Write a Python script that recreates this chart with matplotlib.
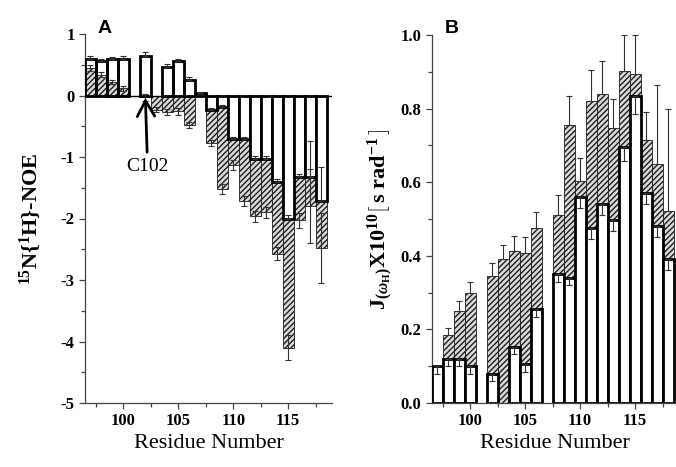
import numpy as np
import matplotlib
matplotlib.use("Agg")
import matplotlib.pyplot as plt
from matplotlib.ticker import MultipleLocator

nan = np.nan

# ---------------- data ----------------
residues = [97, 98, 99, 100, 101, 102, 103, 104, 105, 106, 107,
            108, 109, 110, 111, 112, 113, 114, 115, 116, 117, 118]

# Panel A: 15N{1H}-NOE
noe_open = [0.60, 0.56, 0.59, 0.60, nan, 0.65, nan, 0.47, 0.565, 0.26, 0.04,
            -0.24, -0.18, -0.71, -0.71, -1.03, -1.03, -1.41, -2.00, -1.33, -1.33, -1.72]
noe_open_err = [0.04, 0.03, 0.03, 0.04, nan, 0.05, nan, 0.04, 0.03, 0.04, 0.02,
                0.03, 0.03, 0.03, 0.04, 0.05, 0.05, 0.06, 0.05, 0.05, 0.59, 0.56]
noe_hatched = [0.45, 0.34, 0.22, 0.12, nan, -0.03, -0.23, -0.27, -0.26, -0.48, nan,
               -0.77, -1.52, -1.13, -1.72, -1.96, -1.90, -2.57, -4.10, -2.03, -1.80, -2.48]
noe_hatched_err = [0.05, 0.04, 0.04, 0.04, nan, 0.06, 0.04, 0.05, 0.05, 0.05, nan,
                   0.05, 0.08, 0.08, 0.08, 0.09, 0.09, 0.10, 0.20, 0.12, 0.60, 0.57]

# Panel B: J(wH) x 10^10 [s rad^-1]
j_open = [0.10, 0.12, 0.12, 0.10, nan, 0.08, nan, 0.153, 0.105, 0.255, nan,
          0.35, 0.34, 0.56, 0.476, 0.542, 0.498, 0.697, 0.835, 0.572, 0.482, 0.392]
j_open_err = [0.02, 0.02, 0.02, 0.02, nan, 0.02, nan, 0.02, 0.02, 0.02, nan,
              0.02, 0.02, 0.03, 0.03, 0.03, 0.03, 0.04, 0.05, 0.03, 0.03, 0.03]
j_hatched = [nan, 0.185, 0.25, 0.30, nan, 0.345, 0.39, 0.413, 0.408, 0.475, nan,
             0.51, 0.756, 0.604, 0.82, 0.84, 0.748, 0.901, 0.895, 0.716, 0.65, 0.523]
j_hatched_err = [nan, 0.02, 0.028, 0.03, nan, 0.035, 0.04, 0.042, 0.042, 0.045, nan,
                 0.056, 0.077, 0.062, 0.086, 0.088, 0.079, 0.098, 0.105, 0.074, 0.215, 0.277]

# ---------------- style ----------------
plt.rcParams["axes.unicode_minus"] = False
plt.rcParams["hatch.linewidth"] = 1.0
plt.rcParams["mathtext.fontset"] = "custom"
plt.rcParams["mathtext.rm"] = "Liberation Serif:bold"
plt.rcParams["mathtext.bf"] = "Liberation Serif:bold"
plt.rcParams["mathtext.it"] = "Liberation Serif:bold:italic"

SERIF = "Liberation Serif"
W, H = 676, 467
fig = plt.figure(figsize=(W / 100, H / 100), dpi=100)
axA = fig.add_axes([85 / W, 64 / H, 247 / W, 369 / H])
axB = fig.add_axes([431.5 / W, 64 / H, 247.5 / W, 368 / H])

res = np.array(residues, dtype=float)
hatch_kw = dict(width=1.0, color="#dadada", edgecolor="#1e1e1e", hatch="//////",
                linewidth=0.6)
open_kw = dict(width=1.0, edgecolor="black", linewidth=2.0)
err_kw = dict(fmt="none", ecolor="#333333", elinewidth=0.8, capsize=2.2, capthick=0.8)

# ----- Panel A -----
na_open = np.array(noe_open)
na_hat = np.array(noe_hatched)
axA.bar(res, na_hat, zorder=2, **hatch_kw)
faces = ["white" if (v == v and v < 0) else "none" for v in na_open]
axA.bar(res, na_open, color=faces, zorder=3, **open_kw)
axA.axhline(0, color="black", lw=1.0, zorder=3.5)
axA.errorbar(res, na_open, yerr=[np.zeros(len(res)), np.array(noe_open_err)],
             zorder=4, **err_kw)
axA.errorbar(res, na_hat, yerr=np.array(noe_hatched_err), zorder=4, **err_kw)

axA.set_xlim(96.5, 119)
axA.set_ylim(-5, 1)
axA.yaxis.set_major_locator(MultipleLocator(1))
axA.yaxis.set_minor_locator(MultipleLocator(0.5))
axA.annotate("C102", xy=(102, -0.04), xytext=(102.2, -1.15),
             ha="center", va="center", fontsize=14, family=SERIF,
             arrowprops=dict(arrowstyle="->, head_length=0.8, head_width=0.45",
                             lw=2.0, color="black", mutation_scale=14,
                             shrinkA=2, shrinkB=0), zorder=6)
axA.set_ylabel(r"$^{15}$N{$^{1}$H}-NOE", fontsize=16, fontweight="bold",
               family=SERIF, labelpad=13)

# ----- Panel B -----
jb_open = np.array(j_open)
jb_hat = np.array(j_hatched)
axB.bar(res, jb_hat, zorder=2, **hatch_kw)
axB.bar(res, jb_open, color="white", zorder=3, **open_kw)
axB.errorbar(res, jb_open, yerr=[np.array(j_open_err), np.zeros(len(res))],
             zorder=4, **err_kw)
axB.errorbar(res, jb_hat, yerr=[np.zeros(len(res)), np.array(j_hatched_err)],
             zorder=4, **err_kw)
axB.set_xlim(96.5, 119)
axB.set_ylim(0, 1.0)
axB.yaxis.set_major_locator(MultipleLocator(0.2))
axB.yaxis.set_minor_locator(MultipleLocator(0.1))
axB.set_ylabel(r"J$_{(\omega_{\rm H})}$X10$^{10}$$\left[\,{\rm s\ rad}^{-1}_{\ }\,\right]$",
               fontsize=16, fontweight="bold", family=SERIF, labelpad=4)

for ax in (axA, axB):
    ax.spines["top"].set_visible(False)
    ax.spines["right"].set_visible(False)
    for s in ("left", "bottom"):
        ax.spines[s].set_color("#444444")
        ax.spines[s].set_linewidth(0.9)
    ax.xaxis.set_major_locator(MultipleLocator(5))
    ax.xaxis.set_minor_locator(MultipleLocator(5, offset=2.5))
    ax.tick_params(which="major", direction="out", length=4.5, width=0.9,
                   color="#444444", pad=3)
    ax.tick_params(which="minor", direction="out", length=3, width=0.9,
                   color="#444444")
    for lab in ax.get_xticklabels() + ax.get_yticklabels():
        lab.set_family(SERIF)
        lab.set_fontweight("bold")
        lab.set_fontsize(12)
    ax.set_xlabel("Residue Number", fontsize=16, family=SERIF, labelpad=3)

fig.text(98 / W, 1 - 33 / H, "A", fontsize=14, fontweight="bold",
         family="Liberation Sans", ha="left", va="baseline")
fig.text(445 / W, 1 - 33 / H, "B", fontsize=14, fontweight="bold",
         family="Liberation Sans", ha="left", va="baseline")

fig.savefig("out.png", dpi=100)
